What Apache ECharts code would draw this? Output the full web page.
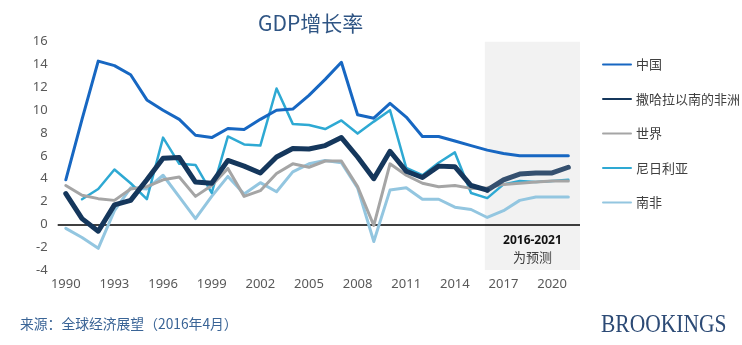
<!DOCTYPE html>
<html>
<head>
<meta charset="utf-8">
<script src="https://cdn.jsdelivr.net/npm/echarts@6/dist/echarts.min.js"></script>
<style>
html,body{margin:0;padding:0;background:#fff;}
#chart{width:742px;height:345px;}
</style>
</head>
<body>
<div id="chart"></div>
<script>
// ---- data ----
var years = [1990,1991,1992,1993,1994,1995,1996,1997,1998,1999,2000,2001,2002,2003,2004,2005,2006,2007,2008,2009,2010,2011,2012,2013,2014,2015,2016,2017,2018,2019,2020,2021];
var seriesNames = ['中国','撒哈拉以南的非洲','世界','尼日利亚','南非'];
var china = [3.9,9.2,14.3,13.9,13.1,10.9,10.0,9.2,7.8,7.6,8.4,8.3,9.2,10.0,10.1,11.3,12.7,14.2,9.6,9.3,10.6,9.4,7.7,7.7,7.3,6.9,6.5,6.2,6.0,6.0,6.0,6.0];
var ssa = [2.7,0.5,-0.6,1.7,2.1,3.9,5.8,5.85,3.7,3.6,5.6,5.1,4.5,5.9,6.65,6.6,6.9,7.6,5.9,4.0,6.4,4.65,4.1,5.1,5.05,3.4,3.0,3.9,4.4,4.5,4.5,5.0];
var world = [3.4,2.55,2.25,2.1,3.1,3.3,3.9,4.15,2.45,3.4,4.9,2.45,2.95,4.45,5.3,5.0,5.55,5.55,3.3,-0.1,5.3,4.3,3.6,3.3,3.4,3.15,3.2,3.5,3.6,3.7,3.8,3.8];
var nigeria = [null,2.2,3.1,4.8,3.6,2.2,7.6,5.3,5.2,2.75,7.7,7.0,6.9,11.9,8.8,8.7,8.35,9.1,7.95,9.0,10.0,4.95,4.3,5.4,6.3,2.75,2.3,3.5,3.8,3.7,3.8,3.9];
var southAfrica = [-0.35,-1.15,-2.1,1.2,3.2,3.1,4.3,2.4,0.5,2.45,4.2,2.65,3.65,2.85,4.6,5.3,5.6,5.4,3.2,-1.5,3.0,3.2,2.2,2.2,1.5,1.3,0.6,1.2,2.1,2.4,2.4,2.4];
var yTicks = [-4,-2,0,2,4,6,8,10,12,14,16];
var xLabelYears = [1990,1993,1996,1999,2002,2005,2008,2011,2014,2017,2020];
var firstForecastYear = 2016;
var forecastStart = 2015.85;
var xMin = 1989.5, xMax = 2021.72;
var titleText = 'GDP增长率';
var forecastLabel = ['2016-2021','为预测'];
var sourceText = '来源：全球经济展望（2016年4月）';
var brandText = 'BROOKINGS';

function pairs(arr){ return years.map(function(y,i){ return [y, arr[i]]; }); }

var colors = ['#1767c2','#15375c','#a5a5a5','#2ea9d3','#93c6e0'];
var widths = [3,5,3,2.5,3];
var allData = [china, ssa, world, nigeria, southAfrica];

var series = allData.map(function(d,i){
  var data = pairs(d);
  if (i === 1) {
    data = years.map(function(y,k){ return [y, y <= firstForecastYear ? d[k] : null]; });
  }
  return {
    name: seriesNames[i],
    type: 'line',
    data: data,
    symbol: 'none',
    connectNulls: false,
    z: (i===1 ? 20 : 10 - i),
    lineStyle: {color: colors[i], width: widths[i], join: 'round', cap: 'round'},
    itemStyle: {color: colors[i]},
    emphasis: {disabled: true},
    animation: false
  };
});
// forecast part of sub-Saharan Africa, drawn in a lighter navy
series.push({
  name: seriesNames[1] + '（预测）',
  type: 'line',
  data: years.map(function(y,k){ return [y, y >= firstForecastYear ? ssa[k] : null]; }),
  symbol: 'none',
  z: 19,
  lineStyle: {color: '#35506f', width: 5, join: 'round', cap: 'round'},
  itemStyle: {color: '#35506f'},
  emphasis: {disabled: true},
  animation: false
});
// zero line and forecast shading
series[0].markLine = {
  silent: true, symbol: ['none','none'], animation: false,
  lineStyle: {color: '#000', width: 1.5, type: 'solid'},
  label: {show: false},
  data: [{yAxis: 0}]
};
series[0].markArea = {
  silent: true, animation: false,
  itemStyle: {color: '#f2f2f2'},
  label: {
    show: true, position: 'insideBottom', distance: 4,
    formatter: '{a|' + forecastLabel[0] + '}\n{b|' + forecastLabel[1] + '}',
    rich: {
      a: {fontFamily: 'Noto Sans', fontWeight: 'bold', fontSize: 12, color: '#111', lineHeight: 16, align: 'center'},
      b: {fontFamily: 'Noto Sans CJK SC', fontSize: 13, color: '#404040', lineHeight: 17, align: 'center'}
    }
  },
  data: [[{xAxis: forecastStart}, {xAxis: xMax}]]
};

var chart = echarts.init(document.getElementById('chart'), null, {renderer: 'canvas'});
chart.setOption({
  animation: false,
  backgroundColor: '#fff',
  title: {
    text: titleText, left: 253, top: 8,
    textStyle: {fontFamily: 'Noto Sans CJK SC', fontSize: 21, fontWeight: 'normal', color: '#2f5584'}
  },
  legend: {
    orient: 'vertical', left: 597, top: 53, itemGap: 21.5, itemWidth: 28, itemHeight: 14,
    data: seriesNames,
    itemStyle: {opacity: 0},
    textStyle: {fontFamily: 'Noto Sans CJK SC', fontSize: 13, color: '#404040'},
    selectedMode: false
  },
  grid: {left: 57.7, right: 162, top: 41.7, bottom: 75, containLabel: false},
  xAxis: {
    type: 'value', min: xMin, max: xMax, interval: 0.5,
    axisLine: {show: false}, axisTick: {show: false}, splitLine: {show: false},
    axisLabel: {
      margin: 8, fontFamily: 'Noto Sans', fontSize: 13, color: '#595959',
      showMinLabel: false, showMaxLabel: false,
      formatter: function(v){
        var r = Math.round(v);
        return (Math.abs(v - r) < 1e-6 && xLabelYears.indexOf(r) >= 0) ? String(r) : '';
      }
    }
  },
  yAxis: {
    type: 'value', min: yTicks[0], max: yTicks[yTicks.length-1], interval: 2,
    axisLine: {show: false}, axisTick: {show: false}, splitLine: {show: false},
    axisLabel: {margin: 10, fontFamily: 'Noto Sans', fontSize: 13, color: '#595959'}
  },
  graphic: [
    {type: 'text', left: 20, top: 317, style: {text: sourceText, font: '13.8px "Noto Sans CJK SC"', fill: '#3a6496'}},
    {type: 'text', left: 601, top: 313, scaleX: 0.86, style: {text: brandText, font: '25px "Liberation Serif"', fill: '#2c4a75'}}
  ],
  series: series
});
</script>
</body>
</html>
